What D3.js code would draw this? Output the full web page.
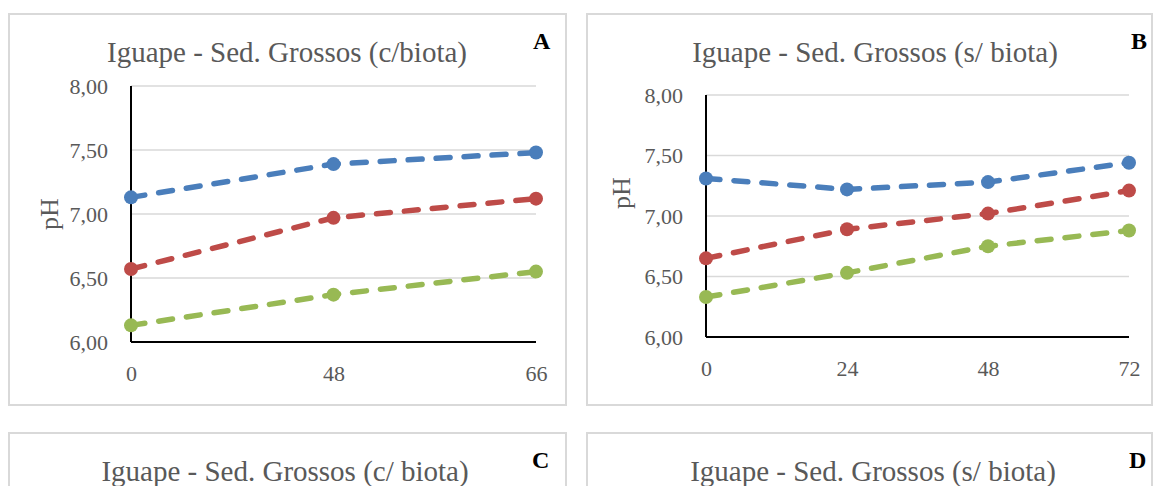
<!DOCTYPE html>
<html>
<head>
<meta charset="utf-8">
<script src="https://cdn.jsdelivr.net/npm/d3@7"></script>
<style>
  html, body { margin: 0; padding: 0; background: #fff; }
  svg { display: block; }
  svg text { font-family: "Liberation Serif", "Times New Roman", serif; }
</style>
</head>
<body>
<div id="canvas"></div>
<script>
/* Data */
let hoursA = ["0", "48", "66"];
let blueA = [7.13, 7.39, 7.48];
let redA = [6.57, 6.97, 7.12];
let greenA = [6.13, 6.37, 6.55];

let hoursB = ["0", "24", "48", "72"];
let blueB = [7.31, 7.22, 7.28, 7.44];
let redB = [6.65, 6.89, 7.02, 7.21];
let greenB = [6.33, 6.53, 6.75, 6.88];

let phTicks = [6.0, 6.5, 7.0, 7.5, 8.0];
let titles = [
    "Iguape - Sed. Grossos (c/biota)",
    "Iguape - Sed. Grossos (s/ biota)",
    "Iguape - Sed. Grossos (c/ biota)",
    "Iguape - Sed. Grossos (s/ biota)"
];
let letters = ["A", "B", "C", "D"];

/* Drawing config */
let svgWidth = 1160;
let svgHeight = 486;
let serif = "Liberation Serif, Times New Roman, serif";
let colors = ["#4a7ebb", "#be4b48", "#98b954"];
let gray = "#595959";

let svg = d3.select("#canvas")
    .append("svg")
    .attr("width", svgWidth)
    .attr("height", svgHeight);

// comma as decimal mark
let ptBR = d3.formatLocale({ decimal: ",", thousands: ".", grouping: [3], currency: ["", ""] });
let fmt = ptBR.format(".2f");

// panel frames + headings (bottom two are cut off by the picture edge)
let frames = [
    { x: 9, y: 14, w: 557, h: 391, cx: 287, lx: 533 },
    { x: 587, y: 14, w: 565, h: 391, cx: 875, lx: 1131 },
    { x: 9, y: 433, w: 557, h: 391, cx: 285, lx: 532 },
    { x: 587, y: 433, w: 565, h: 391, cx: 873, lx: 1129 }
];

frames.forEach(function(f, i) {
    svg.append("rect")
        .attr("x", f.x).attr("y", f.y)
        .attr("width", f.w).attr("height", f.h)
        .attr("fill", "#fff")
        .attr("stroke", "#d9d9d9")
        .attr("stroke-width", 2);

    svg.append("text")
        .attr("x", f.cx).attr("y", f.y + 48)
        .attr("text-anchor", "middle")
        .attr("font-size", 29)
        .attr("fill", gray)
        .text(titles[i]);

    svg.append("text")
        .attr("x", f.lx).attr("y", f.y + 35)
        .attr("font-size", 24)
        .attr("font-weight", "bold")
        .attr("fill", "#000")
        .text(letters[i]);
});

function drawPanel(p) {
    let xScale = d3.scalePoint()
        .domain(p.hours)
        .range([p.left, p.right]);

    let yScale = d3.scaleLinear()
        .domain([6, 8])
        .range([p.bottom, p.top]);

    let g = svg.append("g");

    // gridlines
    g.selectAll(".grid")
        .data(phTicks.slice(1))
        .enter()
        .append("line")
        .attr("x1", p.left).attr("x2", p.right)
        .attr("y1", d => yScale(d)).attr("y2", d => yScale(d))
        .attr("stroke", "#d9d9d9")
        .attr("stroke-width", 1.6);

    // y tick labels
    let yAxis = g.append("g")
        .attr("transform", `translate(${p.left},0)`)
        .call(d3.axisLeft(yScale).tickValues(phTicks).tickFormat(fmt).tickSize(0).tickPadding(23));
    yAxis.attr("font-family", serif).attr("font-size", 22);
    yAxis.select(".domain").remove();
    yAxis.selectAll("text").attr("fill", gray);

    // x tick labels
    let xAxis = g.append("g")
        .attr("transform", `translate(0,${p.bottom})`)
        .call(d3.axisBottom(xScale).tickSize(0).tickPadding(23));
    xAxis.attr("font-family", serif).attr("font-size", 22);
    xAxis.select(".domain").remove();
    xAxis.selectAll("text").attr("fill", gray);

    // axis lines
    g.append("line")
        .attr("x1", p.left).attr("x2", p.left)
        .attr("y1", yScale(8)).attr("y2", yScale(6))
        .attr("stroke", "#000").attr("stroke-width", 2);
    g.append("line")
        .attr("x1", p.left).attr("x2", p.right)
        .attr("y1", yScale(6)).attr("y2", yScale(6))
        .attr("stroke", "#000").attr("stroke-width", 2);

    // axis title
    g.append("text")
        .attr("transform", `translate(${p.phX},${p.phY}) rotate(-90)`)
        .attr("text-anchor", "middle")
        .attr("dy", "0.35em")
        .attr("font-size", 26)
        .attr("fill", gray)
        .text("pH");

    let line = d3.line()
        .x((d, i) => xScale(p.hours[i]))
        .y(d => yScale(d));

    p.series.forEach(function(values, k) {
        g.append("path")
            .datum(values)
            .attr("d", line)
            .attr("fill", "none")
            .attr("stroke", colors[k])
            .attr("stroke-width", 5.5)
            .attr("stroke-linecap", "round")
            .attr("stroke-dasharray", "14,14");

        g.selectAll(".dot" + k)
            .data(values)
            .enter()
            .append("circle")
            .attr("cx", (d, i) => xScale(p.hours[i]))
            .attr("cy", d => yScale(d))
            .attr("r", 7)
            .attr("fill", colors[k]);
    });
}

drawPanel({
    hours: hoursA, series: [blueA, redA, greenA],
    left: 131, right: 536, top: 86, bottom: 342, phX: 49, phY: 214
});

drawPanel({
    hours: hoursB, series: [blueB, redB, greenB],
    left: 706, right: 1129, top: 95, bottom: 337, phX: 621, phY: 193
});
</script>
</body>
</html>
